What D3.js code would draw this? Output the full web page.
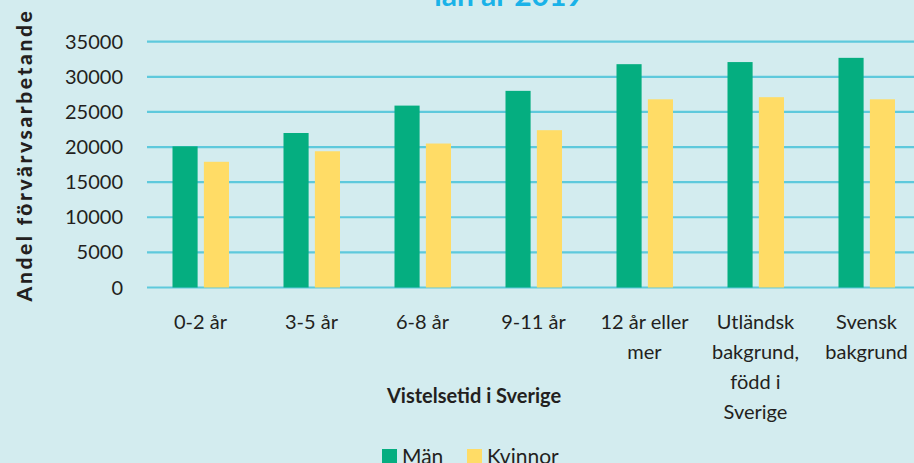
<!DOCTYPE html>
<head>
  <meta charset="utf-8">
  <script src="https://d3js.org/d3.v7.min.js"></script>
  <style>
    body { margin: 0; background: #d3ecef; }
    svg { display: block; width: 914px; height: 463px; font-family: Lato, sans-serif; }
  </style>
</head>
<body>
  <svg></svg>
  <script>
    const width = 914;
    const height = 463;

    // categories and series
    const categories = ['0-2 år', '3-5 år', '6-8 år', '9-11 år', '12 år eller mer',
      'Utländsk bakgrund, född i Sverige', 'Svensk bakgrund'];
    const categoryLines = [['0-2 år'], ['3-5 år'], ['6-8 år'], ['9-11 år'], ['12 år eller', 'mer'],
      ['Utländsk', 'bakgrund,', 'född i', 'Sverige'], ['Svensk', 'bakgrund']];
    const seriesNames = ['Män', 'Kvinnor'];
    const man = [20100, 22000, 25900, 28000, 31800, 32100, 32700];
    const kvinnor = [17900, 19400, 20500, 22400, 26800, 27100, 26800];
    const yTicks = [0, 5000, 10000, 15000, 20000, 25000, 30000, 35000];
    const colors = ['#05ae80', '#ffdc66'];

    const svg = d3.select('svg');

    const x = d3.scaleBand().domain(categories).range([145, 922]);
    const x1 = d3.scaleBand().domain(seriesNames).range([27.5, 84]).paddingInner(0.2);
    const y = d3.scaleLinear().domain([0, 35000]).range([287.5, 41.7]);

    // gridlines
    svg.append('g').selectAll('line')
      .data(yTicks).enter().append('line')
      .attr('x1', 147).attr('x2', width)
      .attr('y1', d => y(d)).attr('y2', d => y(d))
      .attr('stroke', '#5ec9dc')
      .attr('stroke-width', 2.2);

    // y tick labels
    svg.append('g').selectAll('text')
      .data(yTicks).enter().append('text')
      .attr('x', 123)
      .attr('y', d => y(d) + 7)
      .attr('text-anchor', 'end')
      .attr('font-size', 20)
      .attr('fill', '#231f20')
      .text(d => d);

    // bars
    const rows = categories.map((c, i) => ({ c, vals: [man[i], kvinnor[i]] }));
    const groups = svg.append('g').selectAll('g')
      .data(rows).enter().append('g')
      .attr('transform', d => `translate(${x(d.c)},0)`);
    groups.selectAll('rect')
      .data(d => d.vals.map((v, j) => ({ s: seriesNames[j], v, j })))
      .enter().append('rect')
      .attr('x', d => x1(d.s))
      .attr('y', d => y(d.v))
      .attr('width', x1.bandwidth())
      .attr('height', d => y(0) - y(d.v))
      .attr('fill', d => colors[d.j]);

    // x category labels
    const xl = svg.append('g').selectAll('text')
      .data(categories).enter().append('text')
      .attr('x', d => x(d) + x.bandwidth() / 2)
      .attr('y', 329)
      .attr('text-anchor', 'middle')
      .attr('font-size', 20)
      .attr('fill', '#231f20');
    xl.selectAll('tspan')
      .data((d, i) => categoryLines[i])
      .enter().append('tspan')
      .attr('x', function() { return d3.select(this.parentNode).attr('x'); })
      .attr('dy', (d, i) => i === 0 ? 0 : 30)
      .text(d => d);

    // axis titles
    svg.append('text')
      .attr('x', 474).attr('y', 403)
      .attr('text-anchor', 'middle')
      .attr('font-size', 20).attr('font-weight', 'bold')
      .attr('fill', '#231f20')
      .text('Vistelsetid i Sverige');

    svg.append('text')
      .attr('transform', 'translate(32,155)rotate(-90)')
      .attr('text-anchor', 'middle')
      .attr('font-size', 21).attr('font-weight', 900)
      .attr('letter-spacing', 2.6)
      .attr('fill', '#231f20')
      .text('Andel förvärvsarbetande');

    // title (mostly above the visible area)
    svg.append('text')
      .attr('x', 509).attr('y', 6)
      .attr('text-anchor', 'middle')
      .attr('font-size', 30).attr('font-weight', 'bold')
      .attr('fill', '#1ab2e8')
      .text('lan år 2019');

    // legend
    const legend = svg.append('g').selectAll('g')
      .data(seriesNames).enter().append('g')
      .attr('transform', (d, i) => `translate(${[382, 467][i]},0)`);
    legend.append('rect')
      .attr('x', 0).attr('y', 449)
      .attr('width', 15).attr('height', 15)
      .attr('fill', (d, i) => colors[i]);
    legend.append('text')
      .attr('x', 20).attr('y', 464)
      .attr('font-size', 21)
      .attr('fill', '#231f20')
      .text(d => d);
  </script>
</body>
